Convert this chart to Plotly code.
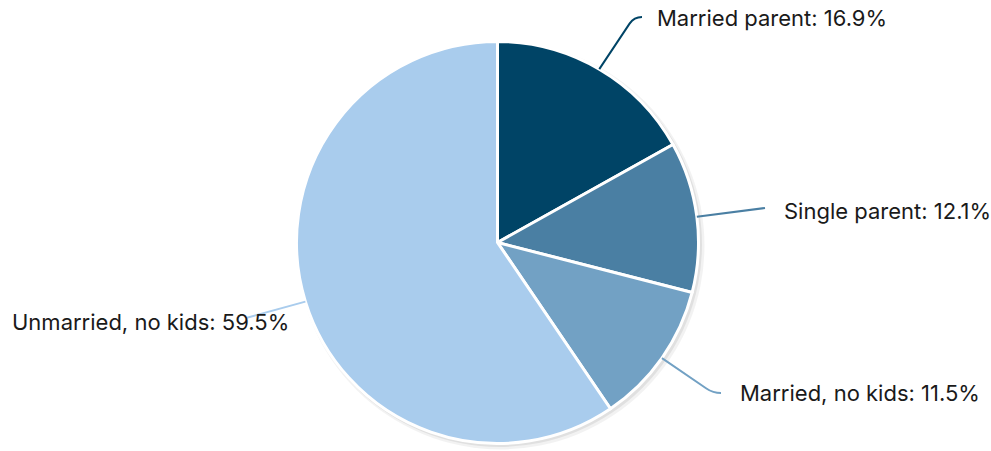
import math
import plotly.graph_objects as go

# Household composition shares (percent)
labels = ["Married parent", "Single parent", "Married, no kids", "Unmarried, no kids"]
values = [16.9, 12.1, 11.5, 59.5]
colors = ["#004466", "#4a7fa3", "#72a1c4", "#a9cced"]

W, H = 991, 451
CX, CY, R = 497.5, 242.5, 201.0

# label placement: (corner point, end of connector, text anchor x/y)
label_layout = [
    {"corner": (634, 17), "end": (642, 17), "tx": 655, "ty": 18},
    {"corner": None, "end": (765, 208), "tx": 782, "ty": 211},
    {"corner": (713, 393), "end": (721, 393), "tx": 738, "ty": 393},
    {"corner": None, "end": (246, 318), "tx": 10, "ty": 322},
]


def px(x):
    return x / W


def py(y):
    return 1 - y / H


dom_x = [px(CX - R), px(CX + R)]
dom_y = [py(CY + R), py(CY - R)]

fig = go.Figure()

# soft drop shadow behind the pie
for off, grow, alpha in [(3, 3, 0.05), (2, 1.5, 0.07)]:
    fig.add_trace(go.Pie(
        values=[1], marker=dict(colors=[f"rgba(0,0,0,{alpha})"], line=dict(width=0)),
        domain=dict(x=[px(CX + off - R - grow), px(CX + off + R + grow)],
                    y=[py(CY + off + R + grow), py(CY + off - R - grow)]),
        textinfo="none", hoverinfo="skip", showlegend=False, sort=False,
    ))

fig.add_trace(go.Pie(
    labels=labels, values=values, sort=False, direction="clockwise", rotation=0,
    marker=dict(colors=colors, line=dict(color="white", width=3)),
    textinfo="none", domain=dict(x=dom_x, y=dom_y), showlegend=False,
))

total = sum(values)
cum = 0.0
shapes = []
annotations = []
for lab, val, col, lay in zip(labels, values, colors, label_layout):
    mid = (cum + val / 2) / total * 2 * math.pi
    cum += val
    sx = CX + R * math.sin(mid)
    sy = CY - R * math.cos(mid)
    ex, ey = lay["end"]
    if lay["corner"] is not None:
        cx_, cy_ = lay["corner"]
        d = math.hypot(cx_ - sx, cy_ - sy)
        t = 8 / d
        qx, qy = cx_ - (cx_ - sx) * t, cy_ - (cy_ - sy) * t
        path = (f"M {px(sx)},{py(sy)} L {px(qx)},{py(qy)} "
                f"Q {px(cx_)},{py(cy_)} {px(ex)},{py(ey)}")
    else:
        path = f"M {px(sx)},{py(sy)} L {px(ex)},{py(ey)}"
    shapes.append(dict(type="path", path=path, xref="paper", yref="paper",
                       line=dict(color=col, width=2), layer="above"))
    annotations.append(dict(
        text=f"{lab}: {val}%", x=px(lay["tx"]), y=py(lay["ty"]),
        xref="paper", yref="paper", xanchor="left", yanchor="middle",
        showarrow=False, font=dict(family="Inter", size=22, color="#1a1a1a"),
    ))

fig.update_layout(
    width=W, height=H, margin=dict(l=0, r=0, t=0, b=0),
    paper_bgcolor="white", plot_bgcolor="white",
    shapes=shapes, annotations=annotations,
)

fig.write_html("out.html")
